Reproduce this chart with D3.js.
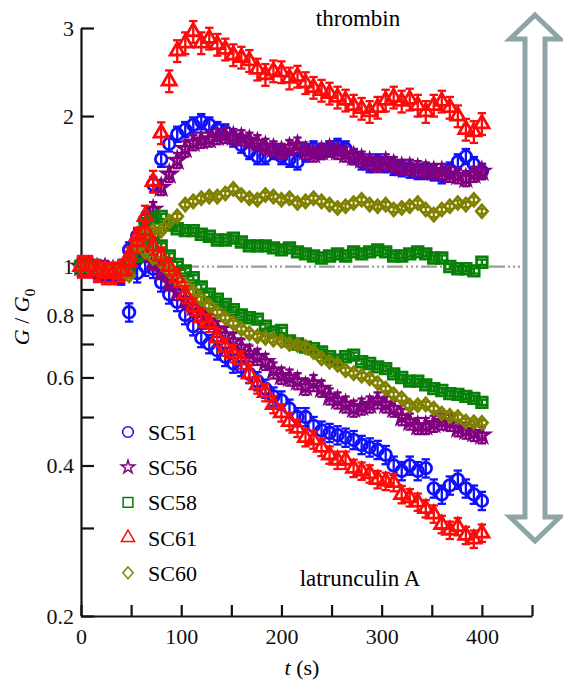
<!DOCTYPE html>
<html>
<head>
<meta charset="utf-8">
<script src="https://cdn.jsdelivr.net/npm/d3@7"></script>
</head>
<body style="margin:0">
<div id="chart-holder"></div>
<script>
//****DATA****
// sampling times (s)
const times = [0,8,16,24,32,40,48,56,64,72,80,88,96,104,112,120,128,136,144,152,160,168,176,184,192,200,
               208,216,224,232,240,248,256,264,272,280,288,296,304,312,320,328,336,344,352,360,368,376,384,392,400];

// G/G0 after thrombin (upper branch)
const sc51Thrombin = [1.0,1.0,0.99,0.98,0.97,0.96,1.08,1.15,1.24,1.46,1.64,1.76,1.84,1.88,1.92,1.95,1.92,1.88,1.86,1.8,1.75,1.7,1.66,1.66,1.7,1.66,
                      1.64,1.62,1.68,1.72,1.7,1.72,1.74,1.72,1.66,1.62,1.6,1.62,1.6,1.58,1.57,1.56,1.55,1.55,1.54,1.52,1.56,1.62,1.66,1.6,1.55];
const sc56Thrombin = [1.0,1.0,0.99,0.99,0.98,0.98,1.0,1.06,1.15,1.3,1.44,1.53,1.63,1.72,1.77,1.79,1.8,1.82,1.83,1.82,1.81,1.79,1.77,1.74,1.72,1.7,
                      1.73,1.75,1.7,1.68,1.7,1.72,1.7,1.68,1.66,1.64,1.62,1.6,1.62,1.6,1.58,1.58,1.57,1.56,1.55,1.55,1.53,1.52,1.5,1.53,1.55];
const sc58Thrombin = [1.0,1.0,0.99,0.98,0.98,0.97,0.98,1.05,1.22,1.25,1.26,1.21,1.19,1.18,1.18,1.16,1.15,1.13,1.13,1.14,1.12,1.1,1.1,1.1,1.09,1.08,
                      1.09,1.07,1.06,1.05,1.04,1.05,1.06,1.05,1.07,1.06,1.07,1.08,1.07,1.05,1.05,1.06,1.07,1.06,1.04,1.04,1.0,0.99,0.99,0.98,1.02];
const sc61Thrombin = [1.0,1.0,0.98,0.97,0.97,0.98,1.02,1.12,1.26,1.48,1.85,2.35,2.7,2.8,2.95,2.8,2.86,2.78,2.72,2.65,2.62,2.58,2.48,2.42,2.46,2.45,
                      2.38,2.4,2.33,2.28,2.25,2.22,2.18,2.15,2.1,2.07,2.04,2.08,2.15,2.18,2.14,2.16,2.1,2.04,2.1,2.14,2.08,2.0,1.88,1.86,1.93];
const sc60Thrombin = [1.0,1.0,1.0,0.99,0.98,0.97,1.04,1.12,1.16,1.18,1.18,1.23,1.26,1.33,1.35,1.37,1.38,1.38,1.4,1.43,1.39,1.37,1.36,1.39,1.38,1.36,
                      1.37,1.34,1.35,1.37,1.35,1.33,1.31,1.32,1.34,1.36,1.33,1.32,1.33,1.3,1.31,1.32,1.34,1.3,1.27,1.3,1.32,1.34,1.33,1.36,1.29];

// G/G0 after latrunculin A (lower branch)
const sc51Latrunculin = [1.0,1.0,0.99,0.98,0.97,0.96,0.81,0.97,1.0,0.99,0.93,0.88,0.85,0.8,0.76,0.72,0.7,0.68,0.66,0.64,0.63,0.61,0.59,0.57,0.55,0.54,
                         0.52,0.5,0.5,0.48,0.47,0.465,0.46,0.455,0.45,0.44,0.435,0.43,0.42,0.4,0.39,0.4,0.39,0.395,0.36,0.35,0.365,0.375,0.36,0.35,0.34];
const sc56Latrunculin = [1.0,1.0,0.99,0.99,0.98,0.98,1.02,1.08,1.06,1.02,0.98,0.93,0.89,0.86,0.83,0.81,0.78,0.75,0.73,0.71,0.69,0.67,0.66,0.645,0.62,0.605,
                         0.6,0.59,0.575,0.585,0.57,0.55,0.54,0.53,0.52,0.525,0.53,0.54,0.53,0.52,0.5,0.49,0.48,0.48,0.485,0.49,0.487,0.475,0.47,0.465,0.46];
const sc58Latrunculin = [1.0,1.0,0.99,0.98,0.98,0.97,0.98,1.05,1.12,1.15,1.1,1.05,1.01,0.98,0.95,0.91,0.88,0.86,0.84,0.82,0.8,0.79,0.785,0.76,0.74,0.745,
                         0.71,0.7,0.69,0.685,0.675,0.66,0.65,0.66,0.665,0.645,0.64,0.63,0.625,0.61,0.6,0.59,0.59,0.58,0.57,0.565,0.557,0.555,0.55,0.545,0.535];
const sc61Latrunculin = [1.0,1.0,0.98,0.97,0.97,0.98,1.05,1.15,1.18,1.1,1.05,1.0,0.95,0.88,0.83,0.79,0.77,0.72,0.69,0.67,0.65,0.61,0.58,0.56,0.53,0.51,
                         0.49,0.475,0.455,0.45,0.435,0.42,0.41,0.41,0.395,0.39,0.385,0.375,0.372,0.37,0.35,0.345,0.338,0.328,0.32,0.305,0.297,0.302,0.29,0.285,0.293];
const sc60Latrunculin = [1.0,1.0,1.0,0.99,0.99,0.98,0.96,1.1,1.07,1.04,1.02,0.98,0.94,0.92,0.89,0.86,0.835,0.81,0.79,0.77,0.75,0.735,0.725,0.72,0.714,0.71,
                         0.7,0.697,0.69,0.675,0.655,0.645,0.636,0.62,0.612,0.605,0.598,0.585,0.57,0.555,0.545,0.527,0.528,0.53,0.52,0.508,0.503,0.5,0.49,0.488,0.487];

// relative error (fraction of value) per series
const seriesNames = ['SC51', 'SC56', 'SC58', 'SC61', 'SC60'];
const errThrombin = [0.035, 0.035, 0.012, 0.05, 0.012];
const errLatrunculin = [0.042, 0.037, 0.012, 0.04, 0.012];

// axis ticks
const xTicks = [0, 50, 100, 150, 200, 250, 300, 350, 400, 450];
const xTickLabels = [0, 100, 200, 300, 400];
const yTicks = [0.2, 0.3, 0.4, 0.5, 0.6, 0.7, 0.8, 0.9, 1, 2, 3];
const yTickLabels = [0.2, 0.4, 0.6, 0.8, 1, 2, 3];

//****CREATE THE SVG CANVAS****
const width = 563;
const height = 682;
const fontName = 'Liberation Serif';
const colors = {SC51: '#1010ff', SC56: '#800080', SC58: '#068006', SC61: '#ff0a0a', SC60: '#808000'};

// diamond a bit wider than d3's own
const symbolDiamondWide = {
    draw(context, size) {
        const r = Math.sqrt(size) / 2;
        context.moveTo(0, -r * 1.25);
        context.lineTo(r * 1.1, 0);
        context.lineTo(0, r * 1.25);
        context.lineTo(-r * 1.1, 0);
        context.closePath();
    }
};
const symbols = {
    SC51: {type: d3.symbolCircle, size: 105},
    SC56: {type: d3.symbolStar, size: 64},
    SC58: {type: d3.symbolSquare, size: 112},
    SC61: {type: d3.symbolTriangle, size: 88},
    SC60: {type: symbolDiamondWide, size: 105}
};

const svg = d3.select('#chart-holder')
                .append('svg')
                .attr('width', width)
                .attr('height', height)
                .attr('font-family', fontName);

//****SCALES****
const xScale = d3.scaleLinear()
                .domain([0, 450])
                .range([81, 532]);
const yScale = d3.scaleLog()
                .domain([0.2, 3])
                .range([616, 28]);

// reference line at G/G0 = 1
svg.append('line')
    .attr('x1', xScale(0))
    .attr('x2', 521)
    .attr('y1', yScale(1))
    .attr('y2', yScale(1))
    .style('stroke', '#9a9a9a')
    .style('stroke-width', 2.2)
    .style('stroke-dasharray', '16,3,2,3,2,3,2,3');

//****AXES****
const xAxis = svg.append('g')
    .attr('transform', `translate(0, ${yScale(0.2)})`)
    .call(d3.axisBottom(xScale)
            .tickValues(xTicks)
            .tickSize(-11)
            .tickSizeOuter(0)
            .tickPadding(12)
            .tickFormat(d => xTickLabels.includes(d) ? d : ''));
const yAxis = svg.append('g')
    .attr('transform', `translate(${xScale(0)}, 0)`)
    .call(d3.axisLeft(yScale)
            .tickValues(yTicks)
            .tickSize(-13)
            .tickSizeOuter(0)
            .tickPadding(7)
            .tickFormat(d => yTickLabels.includes(d) ? d : ''));
[xAxis, yAxis].forEach(function(ax) {
    ax.attr('font-family', fontName).attr('font-size', 22);
    ax.selectAll('path, line').attr('stroke', '#111').attr('stroke-width', 2.2);
    ax.selectAll('text').attr('fill', '#111').attr('font-family', fontName);
});

// axis titles
const xLabel = svg.append('text')
    .attr('x', 302)
    .attr('y', 675)
    .attr('text-anchor', 'middle')
    .attr('font-family', fontName)
    .attr('font-size', 22);
xLabel.append('tspan').attr('font-style', 'italic').text('t');
xLabel.append('tspan').text(' (s)');
const yLabel = svg.append('text')
    .attr('transform', 'translate(29, 317) rotate(-90)')
    .attr('text-anchor', 'middle')
    .attr('font-family', fontName)
    .attr('font-size', 22);
yLabel.append('tspan').attr('font-style', 'italic').text('G');
yLabel.append('tspan').text(' / ');
yLabel.append('tspan').attr('font-style', 'italic').text('G');
yLabel.append('tspan').attr('dy', 6).attr('font-size', 15).text('0');

//****PLOT THE DATA****
const branches = [
    {name: 'SC51', up: sc51Thrombin, down: sc51Latrunculin},
    {name: 'SC56', up: sc56Thrombin, down: sc56Latrunculin},
    {name: 'SC58', up: sc58Thrombin, down: sc58Latrunculin},
    {name: 'SC60', up: sc60Thrombin, down: sc60Latrunculin},
    {name: 'SC61', up: sc61Thrombin, down: sc61Latrunculin}
];
const capHalf = 4.2;

branches.forEach(function(s) {
    const idx = seriesNames.indexOf(s.name);
    const col = colors[s.name];
    const sym = d3.symbol().type(symbols[s.name].type).size(symbols[s.name].size);
    [[s.down, errLatrunculin[idx]], [s.up, errThrombin[idx]]].forEach(function(pair) {
        const pts = times.map((t, i) => ({t: t, v: pair[0][i], e: pair[1]}));
        const g = svg.append('g').attr('class', 'series-' + s.name);
        // error bars
        const eb = g.selectAll('g.err')
            .data(pts)
            .enter()
            .append('g')
            .attr('class', 'err')
            .attr('stroke', col)
            .attr('stroke-width', 2.3);
        eb.append('line')
            .attr('x1', d => xScale(d.t)).attr('x2', d => xScale(d.t))
            .attr('y1', d => yScale(d.v * (1 + d.e))).attr('y2', d => yScale(d.v * (1 - d.e)));
        eb.append('line')
            .attr('x1', d => xScale(d.t) - capHalf).attr('x2', d => xScale(d.t) + capHalf)
            .attr('y1', d => yScale(d.v * (1 + d.e))).attr('y2', d => yScale(d.v * (1 + d.e)));
        eb.append('line')
            .attr('x1', d => xScale(d.t) - capHalf).attr('x2', d => xScale(d.t) + capHalf)
            .attr('y1', d => yScale(d.v * (1 - d.e))).attr('y2', d => yScale(d.v * (1 - d.e)));
        // markers
        g.selectAll('path.mark')
            .data(pts)
            .enter()
            .append('path')
            .attr('class', 'mark')
            .attr('transform', d => `translate(${xScale(d.t)}, ${yScale(d.v)})`)
            .attr('d', sym)
            .attr('fill', 'none')
            .attr('stroke', col)
            .attr('stroke-width', 2.8);
    });
});

//****ANNOTATIONS****
svg.append('text')
    .attr('x', 358)
    .attr('y', 26)
    .attr('text-anchor', 'middle')
    .attr('font-family', fontName)
    .attr('font-size', 23)
    .text('thrombin');
svg.append('text')
    .attr('x', 360)
    .attr('y', 586)
    .attr('text-anchor', 'middle')
    .attr('font-family', fontName)
    .attr('font-size', 23)
    .text('latrunculin A');

// double headed hollow arrow on the right
const ax = 535;
const arrowPts = [[ax, 15], [ax + 25, 39], [ax + 10, 39], [ax + 10, 517], [ax + 25, 517], [ax, 541],
                  [ax - 25, 517], [ax - 10, 517], [ax - 10, 39], [ax - 25, 39]];
svg.append('polygon')
    .attr('points', arrowPts.map(p => p.join(',')).join(' '))
    .attr('fill', '#fff')
    .attr('stroke', '#8ea4a7')
    .attr('stroke-width', 5)
    .attr('stroke-linejoin', 'miter');

//****LEGEND****
const legendGroup = svg.append('g').attr('id', 'legend-group');
seriesNames.forEach(function(name, i) {
    const ly = 432 + i * 35.2;
    legendGroup.append('path')
        .attr('transform', `translate(128, ${ly})`)
        .attr('d', d3.symbol().type(symbols[name].type).size(symbols[name].size * 0.85)())
        .attr('fill', 'none')
        .attr('stroke', colors[name])
        .attr('stroke-width', 1.5);
    legendGroup.append('text')
        .attr('x', 148)
        .attr('y', ly + 8)
        .attr('font-family', fontName)
        .attr('font-size', 22)
        .text(name);
});
</script>
</body>
</html>
